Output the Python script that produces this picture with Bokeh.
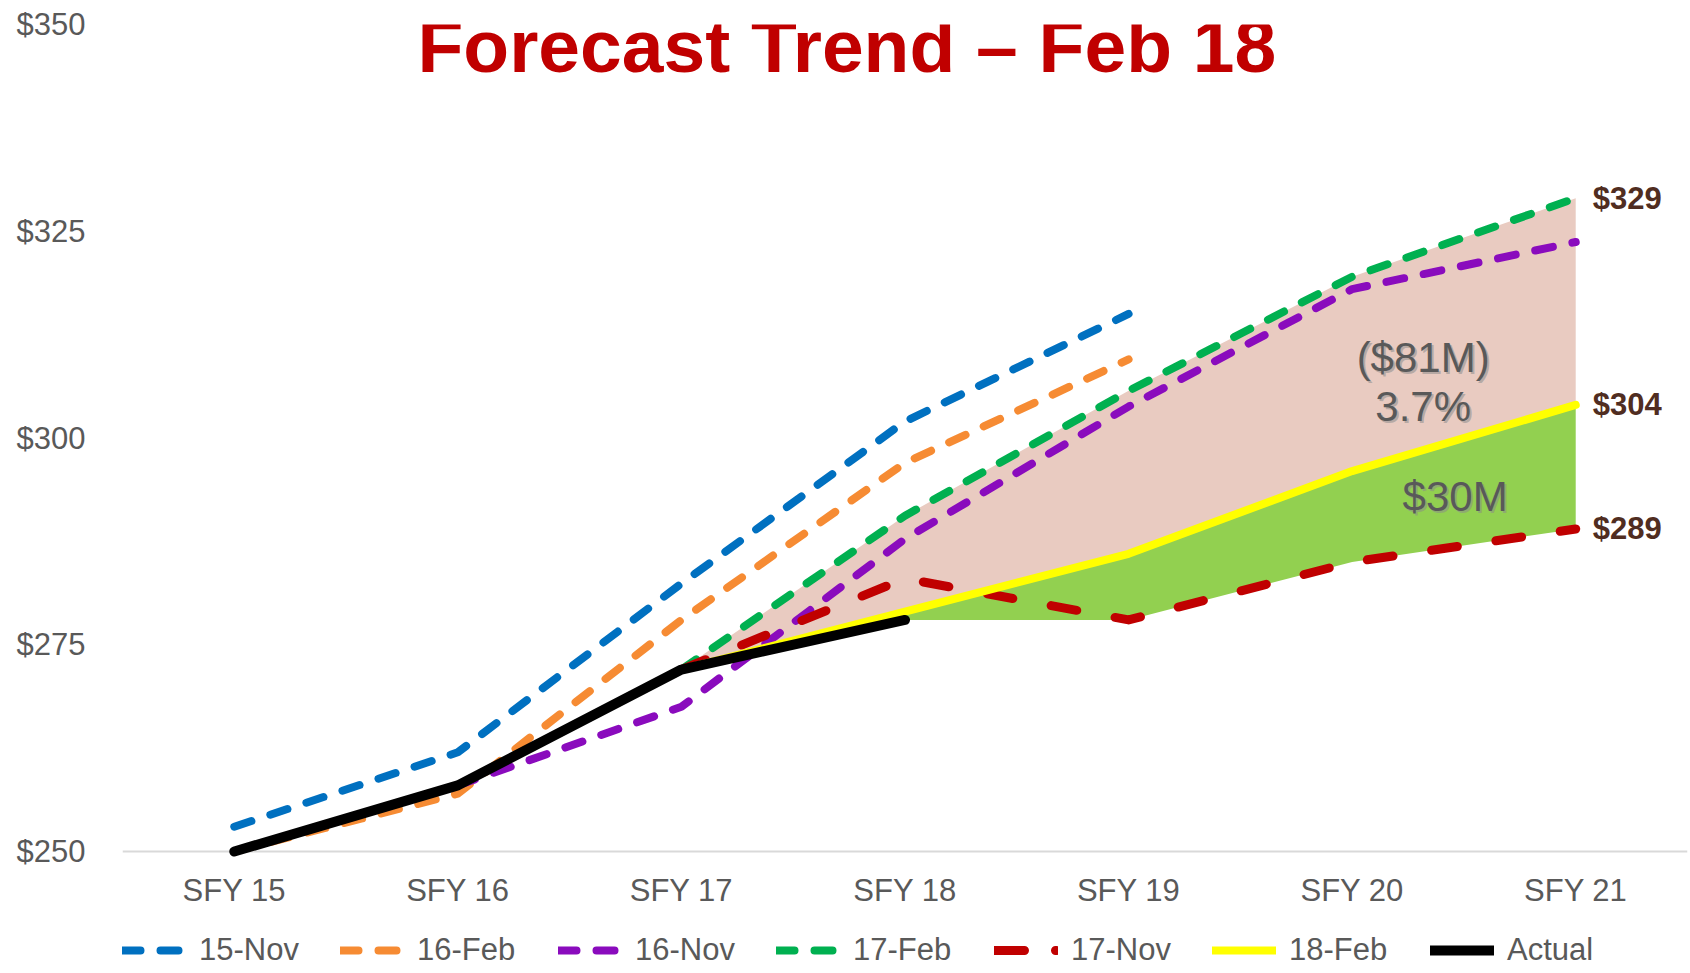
from bokeh.plotting import figure
from bokeh.models import (FactorRange, Range1d, FixedTicker, NumeralTickFormatter,
                          Legend, LegendItem, Label, Span)
from bokeh.core.properties import value
from bokeh.embed import file_html
from bokeh.resources import INLINE

# ---------------- data ----------------
categories = ["SFY 15", "SFY 16", "SFY 17", "SFY 18", "SFY 19", "SFY 20", "SFY 21"]
nov15 = [253, 262, 282.4, 302, 315, None, None]
feb16 = [250, 257, 278, 297, 309.5, None, None]
nov16 = [None, 258, 267.5, 287.8, 303.8, 318, 323.7]
feb17 = [None, None, 272, 290.6, 305.7, 319.5, 329]
nov17 = [None, None, 272, 283, 278, 285, 289]
feb18 = [None, None, 272, 279, 286, 296, 304]
actual = [250, 258, 272, 278, None, None, None]
y_ticks = [250, 275, 300, 325, 350]

title_text = "Forecast Trend \u2013 Feb 18"
gap_label = "($81M)"
pct_label = "3.7%"
green_label = "$30M"

FONT = "Liberation Sans"
GRAY = "#595959"

# layout: the frame runs from the top value down to the bottom of the canvas,
# so that the category labels and the legend live inside it
W, H = 1688, 971
TOP, LEFT = 24, 122
AXIS_PX = 851            # pixel row of the lowest tick
y_lo, y_hi = y_ticks[0], y_ticks[-1]
px_per_unit = (AXIS_PX - TOP) / (y_hi - y_lo)
y_bottom = y_hi - (H - TOP) / px_per_unit


def pts(vals):
    xs = [c for c, v in zip(categories, vals) if v is not None]
    ys = [v for v in vals if v is not None]
    return xs, ys


p = figure(x_range=FactorRange(*categories), y_range=Range1d(y_bottom, y_hi),
           width=W, height=H, output_backend="svg", toolbar_location=None,
           x_axis_location=None,
           min_border_left=LEFT, min_border_right=1, min_border_top=TOP,
           min_border_bottom=0)
p.outline_line_color = None
p.xgrid.visible = False
p.ygrid.visible = False

# y axis
p.yaxis.ticker = FixedTicker(ticks=y_ticks)
p.yaxis.formatter = NumeralTickFormatter(format="$0")
p.yaxis.axis_line_color = None
p.yaxis.major_tick_line_color = None
p.yaxis.minor_tick_line_color = None
p.yaxis.major_tick_out = 0
p.yaxis.minor_tick_out = 0
p.yaxis.major_label_standoff = 37
p.yaxis.major_label_text_font = FONT
p.yaxis.major_label_text_font_size = "31px"
p.yaxis.major_label_text_color = GRAY

# baseline (category axis line)
p.add_layout(Span(location=y_lo, dimension="width", line_color="#D9D9D9",
                  line_width=2, level="underlay"))

# category labels
p.text(x=categories, y=[y_lo] * len(categories), text=categories, y_offset=39,
       text_align="center", text_baseline="middle", text_font=value(FONT),
       text_font_size="31px", text_color=GRAY)

# ---------------- shaded areas ----------------
idx_pink = [i for i in range(len(categories)) if feb17[i] is not None and feb18[i] is not None]
p.varea(x=[categories[i] for i in idx_pink],
        y1=[feb18[i] for i in idx_pink], y2=[feb17[i] for i in idx_pink],
        fill_color="#E9CBC1")

last_act = max(i for i, v in enumerate(actual) if v is not None)
idx_green = [i for i in range(last_act, len(categories)) if feb18[i] is not None]
floor = [actual[last_act]] + [nov17[i] for i in idx_green[1:]]
p.varea(x=[categories[i] for i in idx_green],
        y1=floor, y2=[feb18[i] for i in idx_green],
        fill_color="#92D050")

# ---------------- lines ----------------
dash_style = dict(line_width=8, line_cap="round", line_join="round", line_dash="18 20")
x, y = pts(nov15)
r_nov15 = p.line(x, y, line_color="#0070C0", **dash_style)
x, y = pts(feb16)
r_feb16 = p.line(x, y, line_color="#F68B33", **dash_style)
x, y = pts(nov16)
r_nov16 = p.line(x, y, line_color="#8A0BBD", **dash_style)
x, y = pts(feb17)
r_feb17 = p.line(x, y, line_color="#00B050", **dash_style)
x, y = pts(nov17)
r_nov17 = p.line(x, y, line_color="#C00000", line_width=9, line_cap="round",
                 line_join="round", line_dash="26 39")
x, y = pts(feb18)
r_feb18 = p.line(x, y, line_color="#FFFF00", line_width=8, line_cap="round", line_join="round")
x, y = pts(actual)
r_actual = p.line(x, y, line_color="#000000", line_width=10, line_cap="round", line_join="round")

# legend-only renderer (single point, draws nothing) for the long-dash-dot sample of 17-Nov
r_nov17_leg = p.line(x=[categories[0]], y=[nov17[2]], line_color="#C00000", line_width=9,
                     line_cap="round", line_dash="30 31 1 100")

# ---------------- end value labels ----------------
end_vals = [feb17[-1], feb18[-1], nov17[-1]]
p.text(x=[categories[-1]] * 3, y=end_vals, text=[f"${v:.0f}" for v in end_vals],
       x_offset=17, text_align="left", text_baseline="middle",
       text_font=value(FONT), text_font_style="bold", text_font_size="31px",
       text_color="#502D21")

# ---------------- gap annotations with shadow ----------------
ann_text = [gap_label, pct_label, green_label]
ann_y = [309.7, 303.8, 292.9]
ann_dx = [71, 71, 103]
for dx, t, yy in zip(ann_dx, ann_text, ann_y):
    p.text(x=[categories[5]], y=[yy], text=[t], x_offset=dx + 2, y_offset=2,
           text_align="center", text_baseline="middle",
           text_font=value(FONT), text_font_size="42px",
           text_color="#8C8C8C", text_alpha=0.55)
    p.text(x=[categories[5]], y=[yy], text=[t], x_offset=dx,
           text_align="center", text_baseline="middle",
           text_font=value(FONT), text_font_size="42px", text_color=GRAY)

# ---------------- title ----------------
p.add_layout(Label(x=3.24, y=y_hi, y_offset=-21, text=title_text, text_align="center",
                   text_baseline="alphabetic", text_font=FONT, text_font_size="75px",
                   text_font_style="bold", text_color="#C00000"))

# ---------------- legend ----------------
legend = Legend(items=[
    LegendItem(label="15-Nov", renderers=[r_nov15]),
    LegendItem(label="16-Feb", renderers=[r_feb16]),
    LegendItem(label="16-Nov", renderers=[r_nov16]),
    LegendItem(label="17-Feb", renderers=[r_feb17]),
    LegendItem(label="17-Nov", renderers=[r_nov17_leg]),
    LegendItem(label="18-Feb", renderers=[r_feb18]),
    LegendItem(label="Actual", renderers=[r_actual]),
], orientation="horizontal", location=(0, 3))
legend.label_text_font = FONT
legend.label_text_font_size = "31px"
legend.label_text_color = GRAY
legend.glyph_width = 64
legend.glyph_height = 36
legend.label_height = 36
legend.label_standoff = 13
legend.label_width = 141
legend.spacing = 0
legend.padding = 0
legend.margin = 0
legend.border_line_color = None
legend.background_fill_alpha = 0
p.add_layout(legend, "center")

open("out.html", "w").write(file_html(p, INLINE))
